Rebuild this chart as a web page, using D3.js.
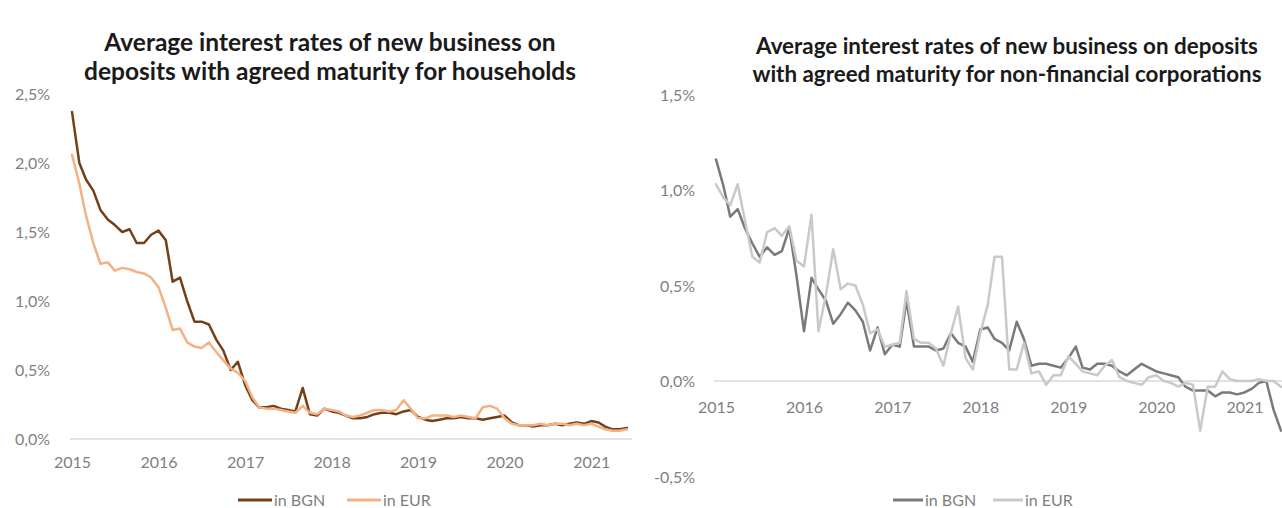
<!DOCTYPE html>
<html>
<head>
<meta charset="utf-8">
<script src="https://cdn.jsdelivr.net/npm/d3@7"></script>
<style>
  html, body { margin: 0; padding: 0; background: #ffffff; }
  svg { display: block; }
  .title { font-family: Lato, "Open Sans", sans-serif; font-weight: 700; fill: #1a1a1a; }
  .tick-label { font-family: Lato, "Open Sans", sans-serif; font-size: 16px; fill: #7f7f7f; }
  .legend-label { font-family: Lato, "Open Sans", sans-serif; font-size: 16px; fill: #7f7f7f; }
</style>
</head>
<body>
<svg id="chart" width="1282" height="508"></svg>
<script>
// Monthly observations from January 2015 to June 2021
const firstMonth = new Date(2015, 0, 1);
const lastMonth = new Date(2021, 5, 1);
const months = d3.timeMonth.range(firstMonth, d3.timeMonth.offset(lastMonth, 1));
const yearTicks = [2015, 2016, 2017, 2018, 2019, 2020, 2021];

// Households, % per annum
const householdsBGN = [
  2.37, 2.00, 1.88, 1.80, 1.66, 1.59, 1.55, 1.50, 1.52, 1.42, 1.42, 1.48,
  1.51, 1.44, 1.14, 1.17, 1.00, 0.85, 0.85, 0.83, 0.72, 0.64, 0.50, 0.56,
  0.39, 0.28, 0.23, 0.23, 0.24, 0.22, 0.21, 0.20, 0.37, 0.18, 0.17, 0.22,
  0.20, 0.19, 0.17, 0.15, 0.15, 0.16, 0.18, 0.19, 0.19, 0.18, 0.20, 0.21,
  0.16, 0.14, 0.13, 0.14, 0.15, 0.15, 0.16, 0.15, 0.15, 0.14, 0.15, 0.16,
  0.17, 0.12, 0.10, 0.10, 0.09, 0.10, 0.10, 0.11, 0.10, 0.11, 0.12, 0.11,
  0.13, 0.12, 0.09, 0.07, 0.07, 0.08
];
const householdsEUR = [
  2.06, 1.85, 1.62, 1.42, 1.27, 1.28, 1.22, 1.24, 1.23, 1.21, 1.20, 1.17,
  1.10, 0.95, 0.79, 0.80, 0.70, 0.67, 0.66, 0.70, 0.63, 0.57, 0.51, 0.48,
  0.42, 0.30, 0.23, 0.22, 0.22, 0.21, 0.20, 0.19, 0.24, 0.19, 0.18, 0.22,
  0.21, 0.20, 0.17, 0.16, 0.17, 0.19, 0.21, 0.21, 0.20, 0.21, 0.28, 0.22,
  0.15, 0.15, 0.17, 0.17, 0.17, 0.16, 0.17, 0.16, 0.15, 0.23, 0.24, 0.22,
  0.15, 0.11, 0.10, 0.10, 0.10, 0.11, 0.10, 0.11, 0.11, 0.10, 0.11, 0.10,
  0.11, 0.09, 0.07, 0.06, 0.06, 0.07
];

// Non-financial corporations, % per annum
const corporationsBGN = [
  1.16, 1.02, 0.86, 0.90, 0.80, 0.72, 0.65, 0.70, 0.66, 0.68, 0.80, 0.55,
  0.26, 0.54, 0.48, 0.42, 0.30, 0.35, 0.41, 0.37, 0.31, 0.16, 0.28, 0.14,
  0.19, 0.18, 0.42, 0.18, 0.18, 0.18, 0.16, 0.17, 0.25, 0.20, 0.18, 0.10,
  0.27, 0.28, 0.22, 0.20, 0.16, 0.31, 0.22, 0.08, 0.09, 0.09, 0.08, 0.07,
  0.12, 0.18, 0.07, 0.06, 0.09, 0.09, 0.08, 0.05, 0.03, 0.06, 0.09, 0.07,
  0.05, 0.04, 0.03, 0.02, -0.03, -0.05, -0.05, -0.05, -0.08, -0.06, -0.06, -0.07,
  -0.06, -0.04, -0.01, 0.00, -0.15, -0.26
];
const corporationsEUR = [
  1.03, 0.96, 0.92, 1.03, 0.84, 0.65, 0.62, 0.78, 0.80, 0.76, 0.81, 0.63,
  0.60, 0.87, 0.26, 0.45, 0.69, 0.48, 0.51, 0.50, 0.40, 0.25, 0.27, 0.18,
  0.19, 0.20, 0.47, 0.22, 0.20, 0.20, 0.17, 0.08, 0.25, 0.39, 0.12, 0.06,
  0.25, 0.40, 0.65, 0.65, 0.06, 0.06, 0.20, 0.04, 0.05, -0.02, 0.03, 0.03,
  0.13, 0.09, 0.05, 0.04, 0.03, 0.08, 0.11, 0.02, 0.00, -0.01, -0.02, 0.02,
  0.03, 0.00, -0.01, -0.03, -0.01, -0.02, -0.26, -0.03, -0.03, 0.05, 0.01, 0.00,
  0.00, 0.00, 0.01, 0.00, 0.00, -0.03
];

const householdsTicks = [0, 0.5, 1.0, 1.5, 2.0, 2.5];
const corporationsTicks = [-0.5, 0, 0.5, 1.0, 1.5];
const seriesNames = ["in BGN", "in EUR"];

const pct = d3.formatLocale({
  decimal: ",", thousands: " ", grouping: [3], currency: ["", ""], minus: "-"
}).format(".1%");

const svg = d3.select("#chart");

function drawPanel(cfg) {
  const g = svg.append("g");

  const x = d3.scaleTime().domain([firstMonth, lastMonth]).range(cfg.xRange);
  const y = d3.scaleLinear().domain(cfg.yDomain).range(cfg.yRange);

  // title
  const title = g.append("text").attr("class", "title")
    .attr("text-anchor", "middle")
    .attr("font-size", cfg.titleSize);
  cfg.titleLines.forEach((t, i) => {
    title.append("tspan").attr("x", cfg.titleX).attr("y", cfg.titleY[i]).text(t);
  });

  // zero line (category axis)
  g.append("line")
    .attr("x1", cfg.axisExtent[0]).attr("x2", cfg.axisExtent[1])
    .attr("y1", y(0)).attr("y2", y(0))
    .attr("stroke", "#d9d9d9").attr("stroke-width", 1.5);

  // value axis labels
  const yAxis = d3.axisLeft(y).tickValues(cfg.yTicks).tickSize(0).tickPadding(0)
    .tickFormat(d => pct(d / 100));
  const yg = g.append("g").attr("transform", `translate(${cfg.yLabelX},0)`).call(yAxis);
  yg.select(".domain").remove();
  yg.selectAll("text").attr("class", "tick-label").attr("font-size", null)
    .attr("font-family", null).attr("fill", null).attr("dy", "0.35em");

  // year labels
  const xAxis = d3.axisBottom(x)
    .tickValues(yearTicks.map(yr => new Date(yr, 0, 1)))
    .tickSize(0).tickPadding(0).tickFormat(d3.timeFormat("%Y"));
  const xg = g.append("g").attr("transform", `translate(0,${cfg.xLabelY})`).call(xAxis);
  xg.select(".domain").remove();
  xg.selectAll("text").attr("class", "tick-label").attr("font-size", null)
    .attr("font-family", null).attr("fill", null).attr("dy", "0.35em");

  // series lines
  const line = d3.line().x((d, i) => x(months[i])).y(d => y(d));
  cfg.series.forEach(s => {
    g.append("path").datum(s.values)
      .attr("fill", "none")
      .attr("stroke", s.color)
      .attr("stroke-width", 2.5)
      .attr("stroke-linejoin", "round")
      .attr("stroke-linecap", "round")
      .attr("d", line);
  });

  // legend
  cfg.series.forEach((s, i) => {
    const lx = cfg.legendX[i];
    g.append("line")
      .attr("x1", lx).attr("x2", lx + cfg.legendSwatch)
      .attr("y1", cfg.legendY).attr("y2", cfg.legendY)
      .attr("stroke", s.color).attr("stroke-width", 3);
    g.append("text").attr("class", "legend-label")
      .attr("x", lx + cfg.legendSwatch + 2).attr("y", cfg.legendY)
      .attr("dy", "0.35em").text(s.name);
  });
}

drawPanel({
  titleLines: ["Average interest rates of new business on", "deposits with agreed maturity for households"],
  titleX: 330, titleY: [51, 80], titleSize: 24.5,
  xRange: [72, 627], yDomain: [0, 2.5], yRange: [439, 94],
  axisExtent: [70, 632],
  yTicks: householdsTicks, yLabelX: 50, xLabelY: 462,
  series: [
    { name: seriesNames[0], values: householdsBGN, color: "#74401a" },
    { name: seriesNames[1], values: householdsEUR, color: "#f4b183" }
  ],
  legendX: [238, 347], legendY: 500, legendSwatch: 34
});

drawPanel({
  titleLines: ["Average interest rates of new business on deposits", "with agreed maturity for non-financial corporations"],
  titleX: 1007, titleY: [54, 82], titleSize: 22.4,
  xRange: [716, 1281], yDomain: [-0.5, 1.5], yRange: [476.5, 94.5],
  axisExtent: [714, 1282],
  yTicks: corporationsTicks, yLabelX: 695, xLabelY: 407,
  series: [
    { name: seriesNames[0], values: corporationsBGN, color: "#7a7a7a" },
    { name: seriesNames[1], values: corporationsEUR, color: "#c9c9c9" }
  ],
  legendX: [893, 993], legendY: 500, legendSwatch: 30
});
</script>
</body>
</html>
